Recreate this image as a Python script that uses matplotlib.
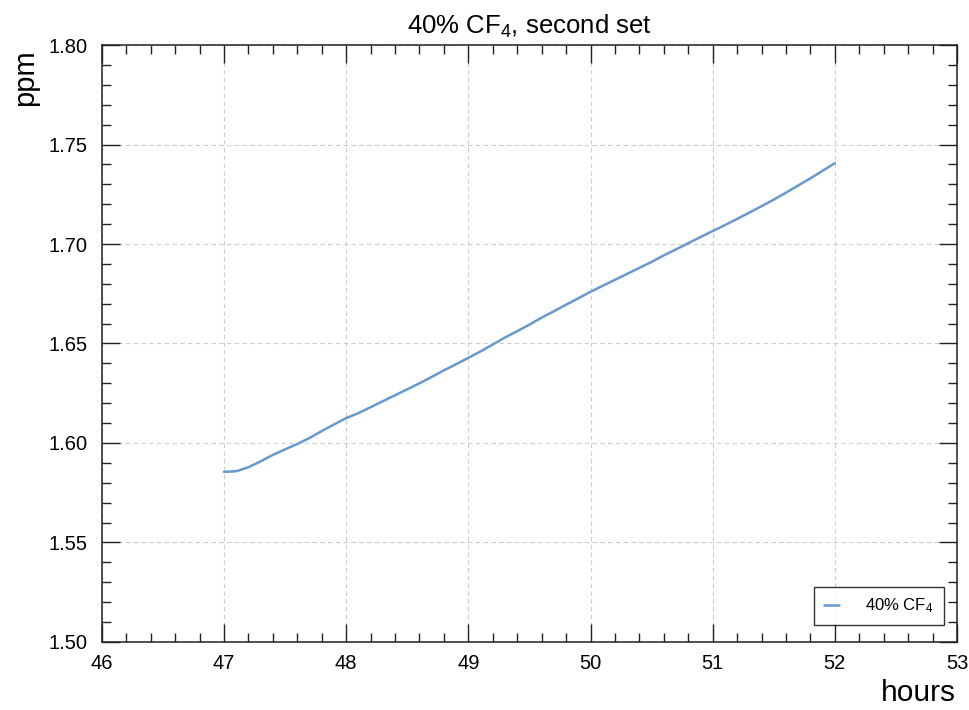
import matplotlib
matplotlib.use("Agg")
import matplotlib.pyplot as plt
from matplotlib.ticker import MultipleLocator, FormatStrFormatter

plt.rcParams['font.family'] = ['Liberation Sans', 'DejaVu Sans']
plt.rcParams['mathtext.fontset'] = 'custom'
plt.rcParams['mathtext.rm'] = 'Liberation Sans'
plt.rcParams['mathtext.it'] = 'Liberation Sans'
plt.rcParams['mathtext.default'] = 'regular'

hours = [47.0, 47.1, 47.2, 47.3, 47.4, 47.5, 47.6, 47.7, 47.8, 47.9,
         48.0, 48.1, 48.2, 48.3, 48.4, 48.5, 48.6, 48.7, 48.8, 48.9,
         49.0, 49.1, 49.2, 49.3, 49.4, 49.5, 49.6, 49.7, 49.8, 49.9,
         50.0, 50.1, 50.2, 50.3, 50.4, 50.5, 50.6, 50.7, 50.8, 50.9,
         51.0, 51.1, 51.2, 51.3, 51.4, 51.5, 51.6, 51.7, 51.8, 51.9, 52.0]
ppm = [1.5855, 1.5858, 1.5878, 1.5908, 1.5940, 1.5968, 1.5995, 1.6025, 1.6060, 1.6093,
       1.6125, 1.6150, 1.6180, 1.6210, 1.6240, 1.6270, 1.6300, 1.6332, 1.6365, 1.6396,
       1.6428, 1.6460, 1.6495, 1.6530, 1.6562, 1.6595, 1.6630, 1.6662, 1.6695, 1.6727,
       1.6760, 1.6790, 1.6820, 1.6850, 1.6880, 1.6910, 1.6943, 1.6973, 1.7004, 1.7035,
       1.7065, 1.7095, 1.7126, 1.7158, 1.7190, 1.7223, 1.7258, 1.7294, 1.7330, 1.7368, 1.7406]

title = "40% CF$_4$, second set"
series_label = "40% CF$_4$"
x_label = "hours"
y_label = "ppm"

fig = plt.figure(figsize=(9.7, 7.1), dpi=100)
ax = fig.add_axes([0.105, 0.0958, 0.8816, 0.8408])

ax.plot(hours, ppm, color='#6699cc', lw=1.8, label=series_label,
        solid_joinstyle='round', solid_capstyle='round')

ax.set_xlim(46, 53)
ax.set_ylim(1.50, 1.80)
ax.xaxis.set_major_locator(MultipleLocator(1))
ax.xaxis.set_minor_locator(MultipleLocator(0.2))
ax.yaxis.set_major_locator(MultipleLocator(0.05))
ax.yaxis.set_minor_locator(MultipleLocator(0.01))
ax.yaxis.set_major_formatter(FormatStrFormatter('%.2f'))
ax.xaxis.set_major_formatter(FormatStrFormatter('%d'))

ax.tick_params(which='both', direction='in', top=True, right=True, color='#222222', width=1.0)
ax.tick_params(which='major', length=13, labelsize=14.5, pad=9)
ax.tick_params(axis='y', which='major', pad=10)
ax.tick_params(which='minor', length=6.5)
for s in ax.spines.values():
    s.set_linewidth(1.1)
    s.set_color('#222222')

ax.grid(True, which='major', color='#cccccc', ls=(0, (4, 3)), lw=0.8)
ax.set_axisbelow(True)

ax.set_title(title, fontsize=18.5, pad=8)
ax.set_xlabel(x_label, fontsize=21.5)
ax.xaxis.set_label_coords(0.9985, -0.1095)
ax.xaxis.label.set_ha('right')
ax.xaxis.label.set_va('bottom')
ax.set_ylabel(y_label, fontsize=21)
ax.yaxis.set_label_coords(-0.09, 0.992)
ax.yaxis.label.set_ha('right')
ax.yaxis.label.set_va('center')

leg = ax.legend(loc='lower right', bbox_to_anchor=(0.9845, 0.028), fontsize=12, frameon=True,
                fancybox=False, edgecolor='black', handlelength=0.9, handletextpad=1.6,
                borderpad=0.6, borderaxespad=0)
leg.get_frame().set_linewidth(1.0)

fig.savefig("out.png", dpi=100)
